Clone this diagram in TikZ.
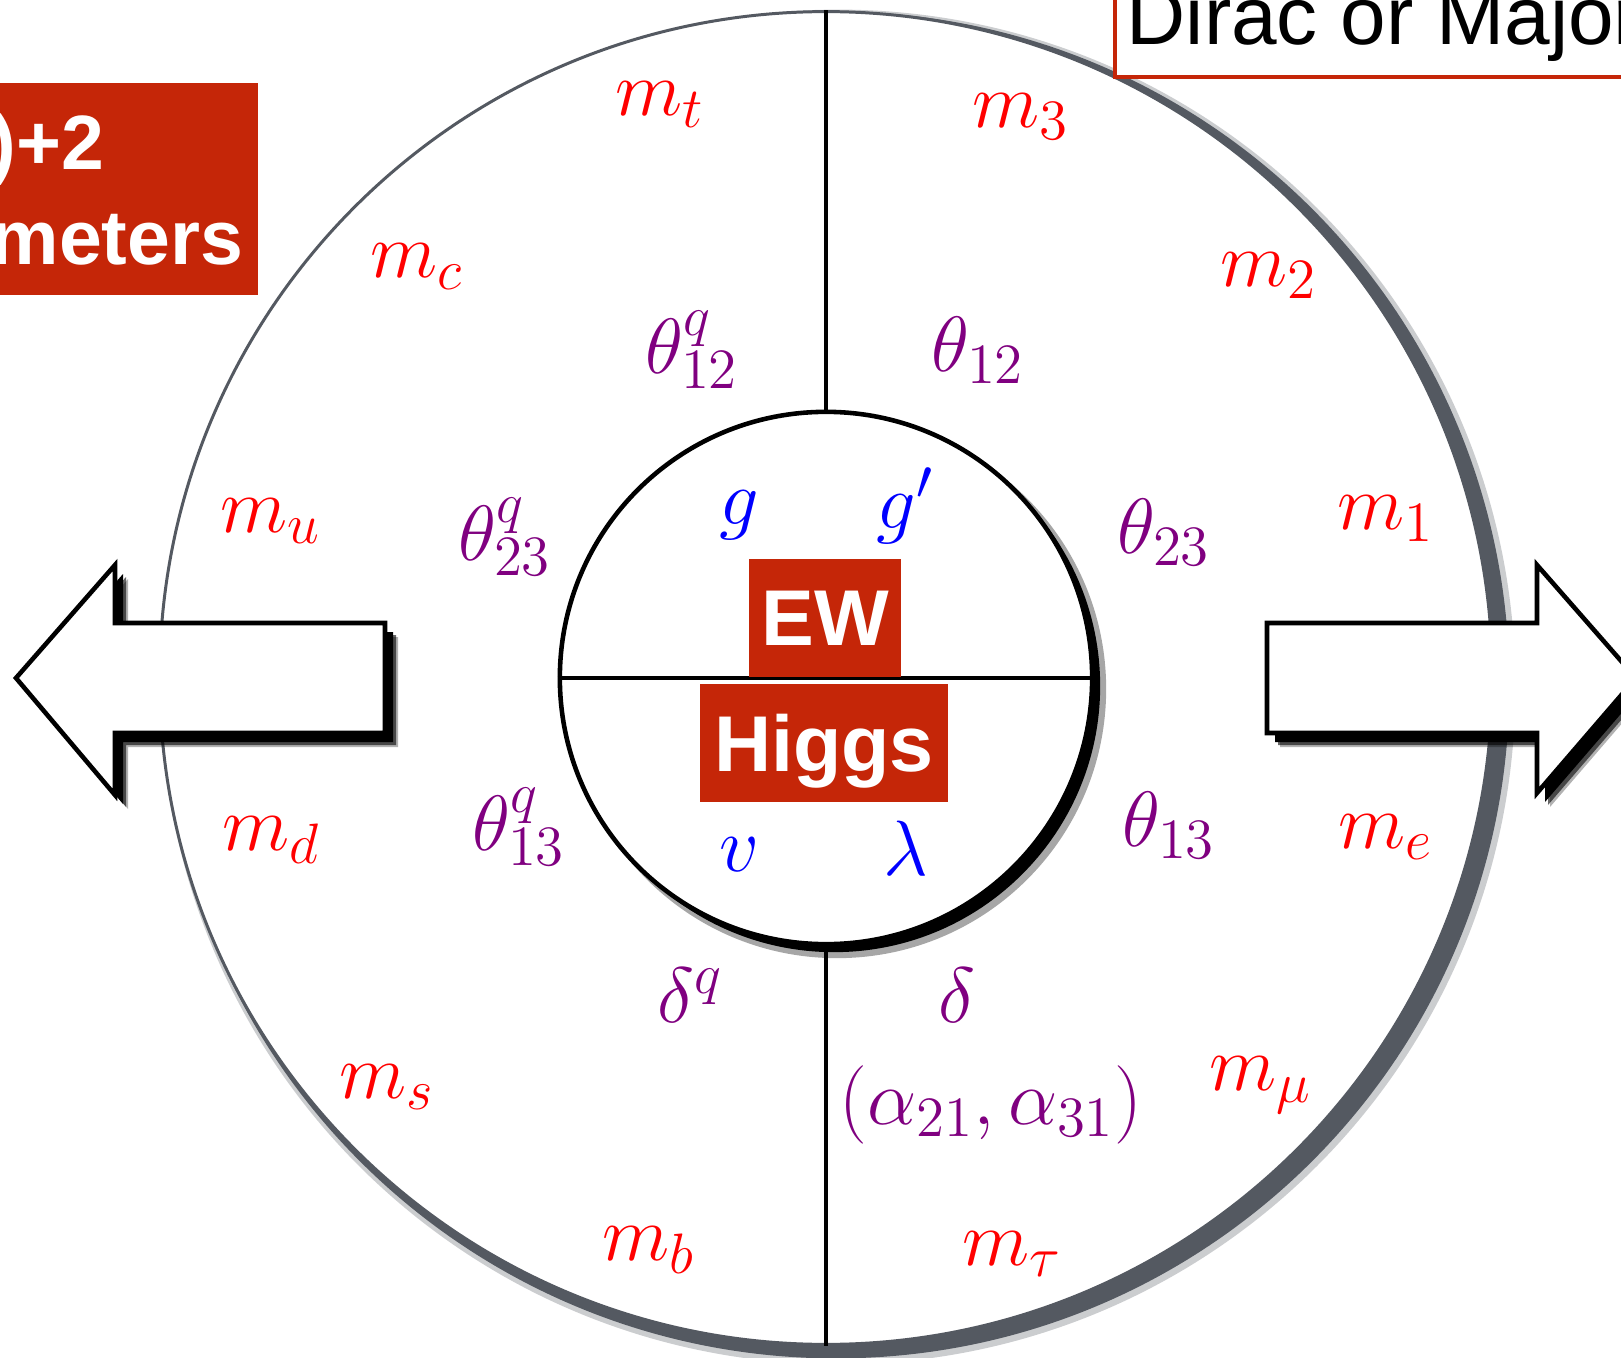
\RequirePackage{fix-cm}
\documentclass[tikz,border=0pt]{standalone}
\usepackage{fontspec}
\setsansfont{Liberation Sans}
\DeclareMathSizes{22.3}{22.3}{16.2}{11.5}
\definecolor{boxred}{RGB}{197,38,8}
\definecolor{ringgray}{RGB}{84,89,97}
\definecolor{mixpurple}{RGB}{128,0,128}

\begin{document}
\begin{tikzpicture}[
    x=0.01cm, y=-0.01cm,
    every node/.style={font=\fontsize{22.3}{26}\selectfont, inner sep=0pt},
    mass/.style={text=red},
    mixing/.style={text=mixpurple},
    gauge/.style={text=blue},
    redbox/.style={fill=boxred, text=white, text depth=0pt, font=\fontsize{22.5}{26}\selectfont\sffamily\bfseries},
    divider/.style={line width=1pt},
    fat arrow/.style={draw, line width=1.3pt, fill=white, line join=miter,
        preaction={fill=black, opacity=.3, transform canvas={shift={(13,14)}}},
        preaction={fill=black, opacity=.6, transform canvas={shift={(11,12)}}},
        preaction={fill=black, transform canvas={shift={(8,9)}}}}
    ]
    \useasboundingbox (0,0) rectangle (1621,1358);

    % Outer ring
    \fill[ringgray, opacity=.3] (838,687) circle [radius=6.77cm];
    \fill[ringgray] (836,685) circle [radius=6.73cm];
    \node (ring) [circle, draw=ringgray, line width=0.85pt, fill=white, minimum size=13.32cm] at (826,678) {};

    % Inner disc
    \fill[black, opacity=.35] (837,689) circle [radius=2.69cm];
    \fill[black] (834,686) circle [radius=2.66cm];
    \node (core) [circle, draw, line width=1.3pt, fill=white, minimum size=5.32cm] at (826,678) {};
    \draw[divider] (ring.north) -- (core.north);
    \draw[divider] (core.south) -- (ring.south);
    \draw[divider] (core.west) -- (core.east);

    % Arrows
    \draw[fat arrow] (16,678) -- (115,565) -- (115,623) -- (385,623) -- (385,733) -- (115,733) -- (115,795) -- cycle;
    \draw[fat arrow] (1636,678) -- (1537,565) -- (1537,623) -- (1267,623) -- (1267,733) -- (1537,733) -- (1537,793) -- cycle;

    % Boxes at the top
    \node (count) [fill=boxred, minimum width=2.70cm, minimum height=2.12cm] at (123,189) {};
    \node (countA) [anchor=base east, text=white, font=\fontsize{21.9}{26}\selectfont\sffamily\bfseries] at (105,170) {)+2};
    \node (countB) [anchor=base east, text=white, font=\fontsize{21.9}{26}\selectfont\sffamily\bfseries] at (244,265) {meters};
    \node (nubox) [draw=boxred, line width=1.1pt, fill=white, anchor=south west, minimum width=6cm, minimum height=1.5cm] at (1113,79) {};
    \node (nutext) [anchor=base west, font=\fontsize{23.3}{28}\selectfont\sffamily] at (1126,45) {Dirac or Major};

    % Centre
    \node (ew) [redbox, minimum width=1.52cm, minimum height=1.18cm] at (825,618) {EW};
    \node (higgs) [redbox, minimum width=2.47cm, minimum height=1.17cm] at (824,743) {Higgs};
    \node (g) [gauge] at (739,515) {$g$};
    \node (gp) [gauge] at (905,506) {$g'$};
    \node (v) [gauge] at (739,855) {$v$};
    \node (lam) [gauge] at (906,848) {$\lambda$};

    % Quarks
    \node (mt) [mass] at (660,105) {$m_t$};
    \node (mc) [mass] at (417,267) {$m_c$};
    \node (mu) [mass] at (271,521) {$m_u$};
    \node (md) [mass] at (271,840) {$m_d$};
    \node (ms) [mass] at (387,1087) {$m_s$};
    \node (mb) [mass] at (649,1250) {$m_b$};
    \node (thqot) [mixing] at (692,350) {$\theta^q_{12}$};
    \node (thqtt) [mixing] at (505,537) {$\theta^q_{23}$};
    \node (thqoth) [mixing] at (519,827) {$\theta^q_{13}$};
    \node (dq) [mixing] at (690,995) {$\delta^q$};

    % Leptons
    \node (mthree) [mass] at (1021,117) {$m_3$};
    \node (mtwo) [mass] at (1269,276) {$m_2$};
    \node (mone) [mass] at (1386,519) {$m_1$};
    \node (me) [mass] at (1386,837) {$m_e$};
    \node (mmu) [mass] at (1261,1085) {$m_\mu$};
    \node (mtau) [mass] at (1012,1254) {$m_\tau$};
    \node (thot) [mixing] at (978,350) {$\theta_{12}$};
    \node (thtt) [mixing] at (1164,532) {$\theta_{23}$};
    \node (thoth) [mixing] at (1169,825) {$\theta_{13}$};
    \node (delta) [mixing] at (957,995) {$\delta$};
    \node (phases) [mixing] at (991,1105) {$(\alpha_{21},\alpha_{31})$};
\end{tikzpicture}
\end{document}
